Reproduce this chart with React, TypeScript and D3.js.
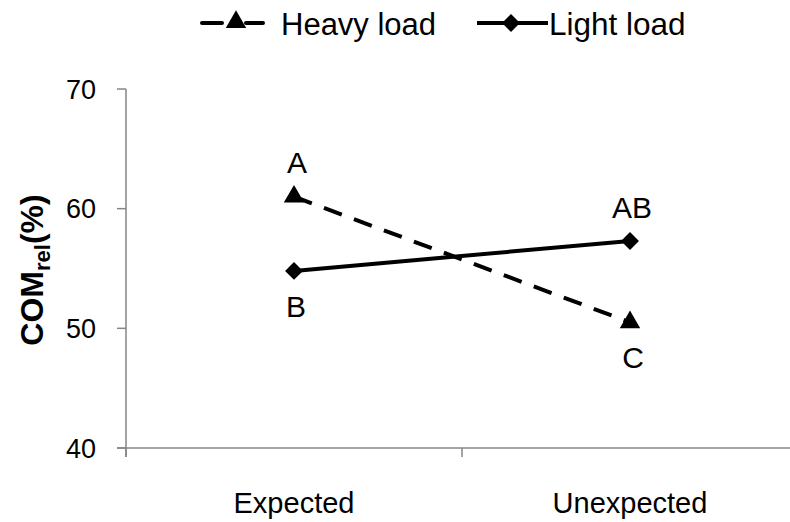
import React, { useEffect, useRef } from 'react';
import * as d3 from 'd3';

const categories = ['Expected', 'Unexpected'];
const heavyLoad = [61.0, 50.5];
const lightLoad = [54.8, 57.3];
const heavyLabels = ['A', 'C'];
const lightLabels = ['B', 'AB'];
const yTicks = [40, 50, 60, 70];

const width = 790;
const height = 522;
const font = 'Liberation Sans, Arial, sans-serif';

const App: React.FC = () => {
	const svgRef = useRef<SVGSVGElement>(null);

	useEffect(() => {
		const svg = d3.select(svgRef.current);
		svg.selectAll('*').remove();

		const x = d3.scaleBand<string>().domain(categories).range([126, 798]).padding(0);
		const y = d3.scaleLinear().domain([40, 70]).range([448, 89]);
		const axisColor = '#868686';

		// y axis
		const yAxis = svg.append('g');
		yAxis
			.append('line')
			.attr('x1', 126)
			.attr('x2', 126)
			.attr('y1', y(70))
			.attr('y2', y(40) + 9)
			.attr('stroke', axisColor)
			.attr('stroke-width', 1.5);
		yTicks.forEach((t) => {
			yAxis
				.append('line')
				.attr('x1', 117)
				.attr('x2', 126)
				.attr('y1', y(t))
				.attr('y2', y(t))
				.attr('stroke', axisColor)
				.attr('stroke-width', 1.5);
			yAxis
				.append('text')
				.attr('x', 96)
				.attr('y', y(t))
				.attr('dy', '0.36em')
				.attr('text-anchor', 'end')
				.style('font-family', font)
				.style('font-size', '27px')
				.text(t);
		});

		// x axis
		const xAxis = svg.append('g');
		xAxis
			.append('line')
			.attr('x1', 117)
			.attr('x2', 798)
			.attr('y1', y(40))
			.attr('y2', y(40))
			.attr('stroke', axisColor)
			.attr('stroke-width', 1.5);
		const bounds = [...categories.map((c) => x(c) as number), 798];
		bounds.forEach((b) => {
			xAxis
				.append('line')
				.attr('x1', b)
				.attr('x2', b)
				.attr('y1', y(40))
				.attr('y2', y(40) + 9)
				.attr('stroke', axisColor)
				.attr('stroke-width', 1.5);
		});
		categories.forEach((c) => {
			xAxis
				.append('text')
				.attr('x', (x(c) as number) + x.bandwidth() / 2)
				.attr('y', 513)
				.attr('text-anchor', 'middle')
				.style('font-family', font)
				.style('font-size', '29px')
				.text(c);
		});

		// y axis title
		const title = svg
			.append('text')
			.attr('transform', `translate(43, 270) rotate(-90)`)
			.attr('text-anchor', 'middle')
			.style('font-family', font)
			.style('font-size', '32px')
			.style('font-weight', 'bold');
		title.append('tspan').text('COM');
		title.append('tspan').attr('dy', 7).style('font-size', '22px').text('rel');
		title.append('tspan').attr('dy', -7).text('(%)');

		const cx = (i: number) => (x(categories[i]) as number) + x.bandwidth() / 2;
		const line = d3
			.line<number>()
			.x((_, i) => cx(i))
			.y((d) => y(d));

		const triangle = d3.symbol().type(d3.symbolTriangle).size(180);
		const diamond = d3.symbol().type(d3.symbolSquare).size(160);

		// Heavy load (dashed + triangles)
		svg
			.append('path')
			.attr('d', line(heavyLoad) as string)
			.attr('fill', 'none')
			.attr('stroke', 'black')
			.attr('stroke-width', 4)
			.attr('stroke-dasharray', '19,13');
		heavyLoad.forEach((v, i) => {
			svg
				.append('path')
				.attr('d', triangle() as string)
				.attr('transform', `translate(${cx(i)},${y(v)})`)
				.attr('fill', 'black');
		});

		// Light load (solid + diamonds)
		svg
			.append('path')
			.attr('d', line(lightLoad) as string)
			.attr('fill', 'none')
			.attr('stroke', 'black')
			.attr('stroke-width', 4);
		lightLoad.forEach((v, i) => {
			svg
				.append('path')
				.attr('d', diamond() as string)
				.attr('transform', `translate(${cx(i)},${y(v)}) rotate(45)`)
				.attr('fill', 'black');
		});

		// significance letters
		const letter = (l: string, px: number, py: number) =>
			svg
				.append('text')
				.attr('x', px)
				.attr('y', py)
				.attr('text-anchor', 'middle')
				.style('font-family', font)
				.style('font-size', '30px')
				.text(l);
		heavyLabels.forEach((l, i) => {
			const above = heavyLoad[i] > lightLoad[i];
			letter(l, cx(i) + 3, y(heavyLoad[i]) + (above ? -24 : 46));
		});
		lightLabels.forEach((l, i) => {
			const above = lightLoad[i] > heavyLoad[i];
			letter(l, cx(i) + 2, y(lightLoad[i]) + (above ? -23 : 46));
		});

		// legend
		const legend = svg.append('g');
		[
			[202, 222],
			[246, 263],
		].forEach(([a, b]) => {
			legend
				.append('line')
				.attr('x1', a)
				.attr('x2', b)
				.attr('y1', 23)
				.attr('y2', 23)
				.attr('stroke', 'black')
				.attr('stroke-width', 4)
				.attr('stroke-linecap', 'round');
		});
		legend
			.append('path')
			.attr('d', triangle() as string)
			.attr('transform', 'translate(236,22)')
			.attr('fill', 'black');
		legend
			.append('text')
			.attr('x', 281)
			.attr('y', 35)
			.style('font-family', font)
			.style('font-size', '31px')
			.text('Heavy load');
		legend
			.append('line')
			.attr('x1', 477)
			.attr('x2', 548)
			.attr('y1', 23)
			.attr('y2', 23)
			.attr('stroke', 'black')
			.attr('stroke-width', 4);
		legend
			.append('path')
			.attr('d', diamond() as string)
			.attr('transform', 'translate(511,23) rotate(45)')
			.attr('fill', 'black');
		legend
			.append('text')
			.attr('x', 549)
			.attr('y', 35)
			.style('font-family', font)
			.style('font-size', '31.5px')
			.text('Light load');
	}, []);

	return (
		<svg
			ref={svgRef}
			width={width}
			height={height}
			style={{ position: 'absolute', left: 0, top: 0, background: 'white' }}
		/>
	);
};

export default App;
